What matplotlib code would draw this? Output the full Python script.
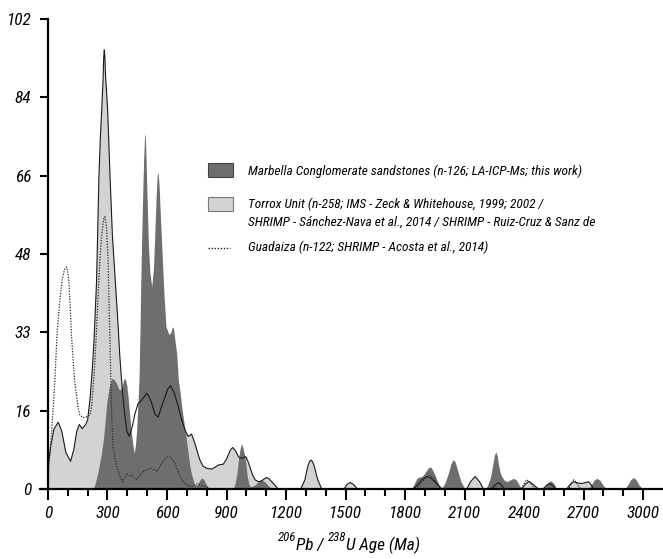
import os
import numpy as np
import matplotlib
matplotlib.use("Agg")
import matplotlib.pyplot as plt
from matplotlib import font_manager as fm
from matplotlib.patches import Rectangle
from matplotlib.lines import Line2D

# ---------------- data ----------------
torrox_age = [0, 15, 30, 52, 70, 90, 114, 130, 145, 158, 173, 190, 200, 212, 222, 232, 245, 257, 264, 271, 278, 281,
              284, 287,
              290, 301, 307, 313, 325, 340, 350, 355, 362, 371, 380, 388, 398, 410, 425, 439, 455, 464, 482, 497, 510,
              523, 540, 556, 572, 590, 605, 618, 635, 657, 674, 691, 707, 724, 741, 755, 766, 783, 800, 825, 845, 859,
              884, 900, 909, 920, 931, 940, 948, 958, 968, 985, 998, 1008, 1018, 1030, 1044, 1060, 1075, 1090, 1103,
              1115, 1136, 1150, 1161,
              1274, 1295, 1310, 1318, 1326, 1334, 1342, 1360, 1380,
              1492, 1508, 1523, 1540, 1560,
              1840, 1860, 1885, 1909, 1930, 1955, 1985,
              2111, 2130, 2153, 2175, 2195,
              2235, 2255, 2270, 2285, 2300,
              2388, 2405, 2422, 2440, 2472,
              2495, 2515, 2528, 2545, 2560,
              2615, 2632, 2649, 2670, 2690, 2710, 2724, 2737, 2749,
              3100]
torrox_val = [5.0, 9.5, 13.0, 14.5, 12.5, 8.0, 6.0, 8.5, 12.5, 14.0, 13.1, 14.0, 15.0, 19.5, 25.0, 32.0, 45.0, 67.8,
              76.0, 82.2, 89.0, 93.5,
              95.3, 93.8,
              90.0, 82.2, 75.0, 67.8, 55.0, 45.0, 38.0, 34.5, 29.0, 23.7, 19.0, 15.7, 12.5, 11.4, 13.5, 16.4, 18.6,
              18.9, 19.8, 20.8, 20.0,
              18.6, 16.2, 15.6, 17.8, 20.0, 21.8, 22.4, 21.0, 17.9, 15.0, 12.8, 11.4, 11.9, 9.9, 7.8, 6.3, 4.9, 4.5,
              4.3, 4.8, 5.2,
              5.4, 6.5, 7.4, 8.5, 9.0, 8.6, 8.1, 7.2, 6.7, 6.8, 7.0, 6.0, 4.8, 3.2, 2.0, 1.6, 1.7, 2.2, 2.5,
              2.2, 1.2, 0.5, 0.0,
              0.0, 2.0, 5.0, 5.9, 6.3, 5.9, 5.0, 2.0, 0.0,
              0.0, 1.0, 1.4, 1.0, 0.0,
              0.0, 0.8, 2.0, 2.7, 2.4, 1.3, 0.0,
              0.0, 1.6, 2.7, 1.6, 0.0,
              0.0, 0.9, 1.4, 0.9, 0.0,
              0.0, 1.0, 1.6, 1.2, 0.0,
              0.0, 0.9, 1.2, 0.7, 0.0,
              0.0, 1.0, 1.6, 1.3, 1.2, 1.4, 1.6, 1.0, 0.0,
              0.0]

marbella_age = [0, 229, 240, 254, 267, 279, 288, 296, 308, 321, 333, 346, 356, 366, 375, 383, 390, 397, 405, 413, 420,
                427, 435, 441, 447, 453, 459, 464, 468, 472, 477, 482, 486, 489, 491, 493, 498, 506, 514, 523, 532,
                540, 546, 550, 553, 556, 560, 566, 573, 584, 595, 610, 620, 627, 632, 640, 649, 657, 666, 674, 682,
                691, 700, 707,
                715, 724, 733, 741, 750, 760, 768, 776, 785, 795, 805, 817,
                934, 945, 953, 960, 968, 976, 984, 993, 1000, 1005, 1012, 1020, 1030, 1044, 1055, 1066, 1077, 1090,
                1105, 1128,
                1834, 1845, 1859, 1872, 1884, 1895, 1909, 1920, 1929, 1940, 1951, 1960, 1968, 1976, 1985, 1995, 2005,
                2018, 2030, 2037, 2044, 2051, 2057, 2069, 2082, 2098, 2110,
                2203, 2215, 2230, 2243, 2250, 2257, 2264, 2270, 2280, 2287, 2300, 2315, 2330, 2346, 2360, 2375, 2388,
                2497, 2510, 2522, 2534, 2548, 2565,
                2724, 2738, 2752, 2767, 2782, 2800, 2817,
                2909, 2922, 2937, 2951, 2965, 2980, 2998,
                3100]
marbella_val = [0, 0, 1.5, 4.1, 7.0, 10.6, 14.5, 18.6, 22.0, 24.0, 23.8, 22.9, 21.8, 21.5, 22.5, 24.0, 23.8, 22.6,
                19.5, 15.7, 12.5,
                9.9, 7.8, 9.5, 12.8, 18.0, 23.7, 34.5, 45.0, 53.3, 63.0, 71.0, 75.5, 77.2, 76.6, 74.0, 66.0, 53.3,
                47.0, 43.9, 48.0,
                57.0, 64.0, 67.6, 68.7, 68.2, 66.0, 60.0, 53.3, 43.0, 35.2, 33.5, 34.0, 35.2, 35.0, 32.3, 29.4, 23.7,
                21.0, 17.9, 15.5,
                12.8, 10.0, 7.7,
                5.0, 3.2, 1.8, 0.9, 0.8, 1.5, 2.1, 2.4, 2.1, 1.2, 0.5, 0.0,
                0.0, 1.5, 3.5, 6.3, 8.6, 9.9, 8.7, 7.0, 4.5, 2.7, 1.2, 0.5, 0.6, 0.9, 1.4, 1.9, 2.0, 1.7,
                1.0, 0.0,
                0.0, 1.0, 2.3, 2.6, 2.7, 3.2, 4.1, 4.7, 4.8, 4.0, 3.0, 2.0, 1.2, 0.5, 0.3, 0.8, 1.8,
                3.4, 5.3, 6.0, 6.3, 6.0, 5.2, 3.4, 1.6, 0.3, 0.0,
                0.0, 0.7, 2.5, 5.5, 7.3, 8.1, 7.3, 5.5, 3.5, 2.7, 1.9, 1.6, 2.0, 2.3, 2.0, 0.9, 0.0,
                0.0, 0.7, 1.4, 1.8, 1.3, 0.0,
                0.0, 0.9, 1.9, 2.3, 1.9, 0.7, 0.0,
                0.0, 0.9, 2.0, 2.5, 2.0, 0.8, 0.0,
                0.0]

guadaiza_age = [0, 5, 12, 19, 27, 35, 47, 60, 72, 84, 94, 104, 112, 119, 128, 136, 145, 153, 161, 175, 187, 200,
                212, 220, 228, 237, 245, 255, 264, 271, 280, 287, 295, 303, 308, 313, 317, 321, 325, 329, 336, 343,
                353, 363, 376, 388, 400, 412, 422, 435, 447, 460, 472, 485, 497, 510, 523, 536, 548, 561, 573, 590,
                607, 615, 628, 640, 653, 666, 680, 691, 710, 724, 737, 750, 765, 790, 810, 825,
                1850, 1875, 1900, 1925, 1945, 1965, 1985,
                2385, 2398, 2412, 2428, 2445, 2460,
                2625, 2638, 2650, 2662, 2675, 2690]
guadaiza_val = [3.0, 5.0, 9.0, 12.8, 18.0, 23.7, 34.5, 41.0, 45.5, 47.7, 48.2, 46.0, 40.0, 33.0, 27.3, 23.0, 20.0,
                17.5, 16.1, 15.5, 15.6, 15.7,
                16.1, 18.0, 22.0, 28.0, 34.5, 44.0, 51.0, 55.0, 58.5, 59.1, 57.0, 50.0, 40.0, 31.6, 24.0, 16.4, 12.3,
                9.2, 7.0, 5.6,
                3.9, 2.7, 1.6, 2.5, 3.2, 2.9, 3.0, 2.5, 2.1, 2.8, 3.4, 3.9, 4.1, 4.4, 4.5, 4.2, 3.8, 4.6, 5.6, 6.5,
                7.0, 7.0, 6.4, 5.6, 4.0, 2.7, 1.8, 1.2, 0.7, 0.5, 0.8, 1.1, 0.9, 0.6, 0.2, 0.0,
                0.0, 1.0, 2.3, 3.0, 2.4, 1.0, 0.0,
                0.0, 1.0, 2.0, 1.6, 0.5, 0.0,
                0.0, 1.2, 2.0, 1.5, 0.5, 0.0]

# age range where the light Torrox fill is absent in the reference (white notch)
torrox_fill_gap = (388, 455)

x_ticks = list(range(0, 3001, 300))
x_minor = list(range(0, 3001, 100))
y_tick_labels = ['0', '16', '33', '48', '66', '84', '102']
x_label_parts = [("206", True), ("Pb / ", False), ("238", True), ("U Age (Ma)", False)]

legend_labels = [
    "Marbella Conglomerate sandstones (n-126; LA-ICP-Ms; this work)",
    "Torrox Unit (n-258; IMS - Zeck & Whitehouse, 1999; 2002 /\nSHRIMP - Sánchez-Nava et al., 2014 / SHRIMP - Ruiz-Cruz & Sanz de",
    "Guadaiza (n-122; SHRIMP - Acosta et al., 2014)",
]

# ---------------- fonts: a narrow italic sans, like the reference ----------------
def find_font():
    files = {os.path.basename(f.fname).lower(): f.fname for f in fm.fontManager.ttflist}
    prefs = ['nimbussansnarrow-oblique', 'nimbussansnarrow-regularoblique', 'liberationsansnarrow-italic',
             'arialnarrowitalic', 'arialni', 'robotocondensed-italic', 'archivonarrow-italic',
             'notosans-condenseditalic', 'dejavusanscondensed-oblique']
    for p in prefs:
        for k, v in files.items():
            if k.startswith(p) and (k.endswith('.ttf') or k.endswith('.otf')):
                return v
    return None

FPATH = find_font()

def fprop(size):
    if FPATH:
        return fm.FontProperties(fname=FPATH, size=size)
    return fm.FontProperties(family='Liberation Sans', style='italic', size=size)

W, H = 663, 559
fig = plt.figure(figsize=(W / 100, H / 100), dpi=100)
renderer = fig.canvas.get_renderer()

def fx(px):
    return px / W

def fy(py):
    return 1 - py / H

def text_width(s, size):
    t = fig.text(0, 0, s, fontproperties=fprop(size))
    w = t.get_window_extent(renderer).width
    t.remove()
    return w

def fit_size(s, target_px):
    return 10.0 * target_px / text_width(s, 10.0)

TICK_FS = fit_size("1200", 33)
LEG_FS = fit_size(legend_labels[0], 334)

ax = fig.add_axes([fx(40), fy(489), fx(663) - fx(40), fy(19) - fy(489)])

LIGHT = '#d3d3d3'
DARK = '#6e6e6e'

ta = np.array(torrox_age, float)
tv = np.array(torrox_val, float)
mask = (ta <= torrox_fill_gap[0]) | (ta >= torrox_fill_gap[1])
ax.fill_between(ta, 0, tv, where=mask, color=LIGHT, lw=0, zorder=1)
ax.fill_between(marbella_age, 0, marbella_val, color=DARK, lw=0, zorder=2)
ax.plot(ta, tv, color='#1a1a1a', lw=0.8, zorder=3)
ax.plot(guadaiza_age, guadaiza_val, color='#2a2a2a', lw=0.9, ls=(0, (1, 1.2)), zorder=4)

ax.set_xlim(-40, 3100)
ax.set_ylim(0, 102)
ax.set_facecolor('none')
for s in ['top', 'right']:
    ax.spines[s].set_visible(False)
ax.spines['left'].set_position(('data', 0))
for s in ['left', 'bottom']:
    ax.spines[s].set_linewidth(1.6)
    ax.spines[s].set_zorder(6)

ax.set_xticks(x_ticks)
ax.set_xticks(x_minor, minor=True)
ax.set_xticklabels([str(v) for v in x_ticks])
ax.set_yticks(np.linspace(0, 102, len(y_tick_labels)))
ax.set_yticklabels(y_tick_labels)
ax.tick_params(axis='x', which='major', length=8, width=1.5, pad=4)
ax.tick_params(axis='x', which='minor', length=5, width=1.5)
ax.tick_params(axis='y', which='major', length=6, width=1.5, pad=6)
for lab in ax.get_xticklabels() + ax.get_yticklabels():
    lab.set_fontproperties(fprop(TICK_FS))

# x axis title with superscripts
sup_scale = 0.74
space_w = text_width("a a", TICK_FS) - text_width("aa", TICK_FS)
widths = []
for s, sup in x_label_parts:
    fs = TICK_FS * (sup_scale if sup else 1)
    w = text_width(s.strip(), fs)
    if s.endswith(' '):
        w += space_w
    widths.append(w)
x0 = 349 - sum(widths) / 2
base = 550
for (s, sup), w in zip(x_label_parts, widths):
    fs = TICK_FS * (sup_scale if sup else 1)
    fig.text(fx(x0), fy(base - (9 if sup else 0)), s.strip(), ha='left', va='baseline', fontproperties=fprop(fs))
    x0 += w

# legend (drawn manually)
fig.patches.append(Rectangle((fx(208), fy(177)), fx(25), fy(163) - fy(177), transform=fig.transFigure,
                             facecolor=DARK, edgecolor='#444444', lw=0.8))
fig.patches.append(Rectangle((fx(208), fy(211)), fx(25), fy(197) - fy(211), transform=fig.transFigure,
                             facecolor=LIGHT, edgecolor='#777777', lw=0.8))
fig.lines.append(Line2D([fx(208), fx(230)], [fy(248), fy(248)], transform=fig.transFigure,
                        color='#222222', lw=1.0, ls=(0, (1, 1.2))))
fig.text(fx(248), fy(171), legend_labels[0], ha='left', va='center', fontproperties=fprop(LEG_FS))
fig.text(fx(248), fy(213.5), legend_labels[1], ha='left', va='center', fontproperties=fprop(LEG_FS),
         linespacing=1.45)
fig.text(fx(248), fy(247), legend_labels[2], ha='left', va='center', fontproperties=fprop(LEG_FS))

fig.savefig('out.png', dpi=100)
